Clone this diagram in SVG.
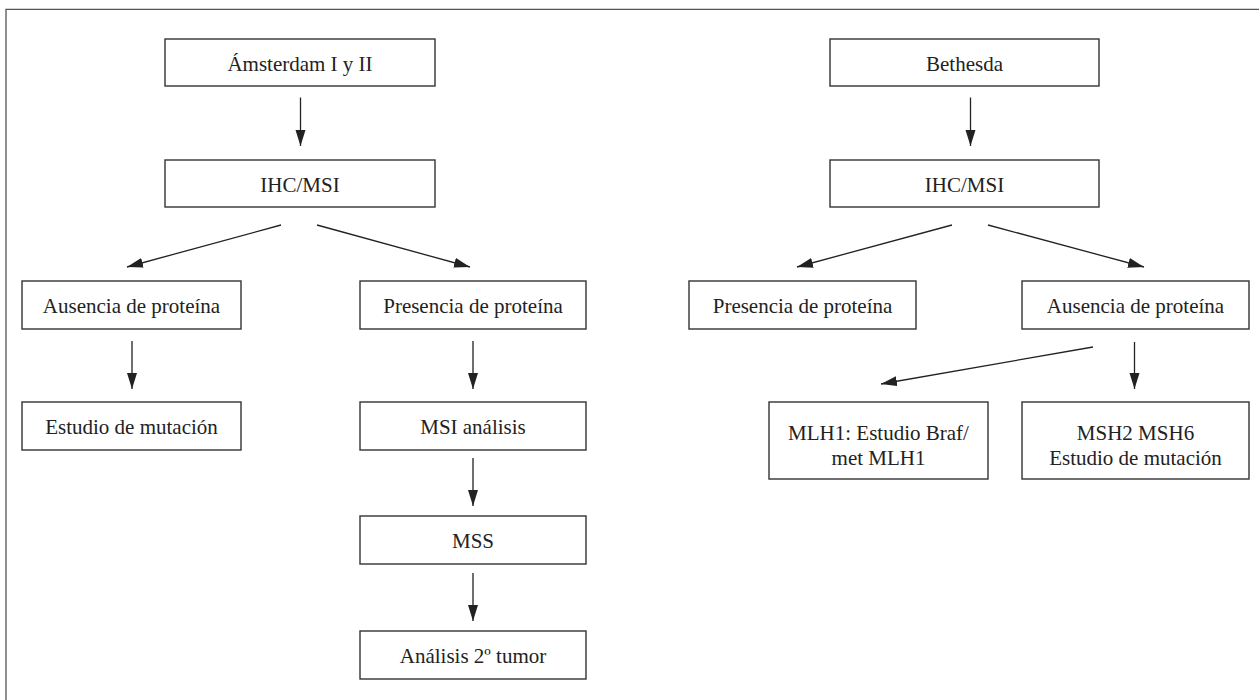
<svg xmlns="http://www.w3.org/2000/svg" width="1259" height="700" viewBox="0 0 1259 700">
<style>
.box{fill:#fff;stroke:#333;stroke-width:1.4}
.t{font-family:"Liberation Serif","Times New Roman",serif;font-size:21px;fill:#222;text-anchor:middle}
.c{stroke:#222;stroke-width:1.3;fill:none;marker-end:url(#ah)}
.frame{stroke:#555;stroke-width:1.3;fill:none}
</style>
<defs>
<marker id="ah" markerUnits="userSpaceOnUse" markerWidth="17" markerHeight="11" refX="16" refY="5" orient="auto" viewBox="0 0 17 11">
<path d="M0,0 L16,5 L0,10 z" fill="#222"/>
</marker>
</defs>
<rect width="1259" height="700" fill="#fff"/>
<path class="frame" d="M6,700 V9.3 H1259"/>
<g id="connectors">
<line class="c" x1="300.5" y1="97.5" x2="300.5" y2="146"/>
<line class="c" x1="281" y1="225" x2="127" y2="267"/>
<line class="c" x1="317" y1="225" x2="470" y2="267"/>
<line class="c" x1="132" y1="341" x2="132" y2="389"/>
<line class="c" x1="473" y1="341" x2="473" y2="389"/>
<line class="c" x1="473" y1="458" x2="473" y2="506"/>
<line class="c" x1="473" y1="573" x2="473" y2="621"/>
<line class="c" x1="970.5" y1="97.5" x2="970.5" y2="146"/>
<line class="c" x1="952" y1="225" x2="797" y2="267"/>
<line class="c" x1="988" y1="225" x2="1144" y2="267"/>
<line class="c" x1="1093" y1="347" x2="881" y2="384"/>
<line class="c" x1="1134.5" y1="342" x2="1134.5" y2="389"/>
</g>
<g id="n-amsterdam"><rect class="box" x="165" y="39" width="270" height="47"/><text class="t" x="300" y="70.5">Ámsterdam I y II</text></g>
<g id="n-ihc-left"><rect class="box" x="165" y="160" width="270" height="47"/><text class="t" x="300" y="191.5">IHC/MSI</text></g>
<g id="n-ausencia-left"><rect class="box" x="22" y="281" width="219" height="48"/><text class="t" x="131.5" y="313">Ausencia de proteína</text></g>
<g id="n-presencia-left"><rect class="box" x="360" y="281" width="226" height="48"/><text class="t" x="473" y="313">Presencia de proteína</text></g>
<g id="n-estudio-left"><rect class="box" x="22" y="402" width="219" height="48"/><text class="t" x="131.5" y="434">Estudio de mutación</text></g>
<g id="n-msi-analisis"><rect class="box" x="360" y="402" width="226" height="48"/><text class="t" x="473" y="434">MSI análisis</text></g>
<g id="n-mss"><rect class="box" x="360" y="516" width="226" height="48"/><text class="t" x="473" y="548">MSS</text></g>
<g id="n-analisis-tumor"><rect class="box" x="360" y="631" width="226" height="48"/><text class="t" x="473" y="663">Análisis 2º tumor</text></g>
<g id="n-bethesda"><rect class="box" x="830" y="39" width="269" height="47"/><text class="t" x="964.5" y="70.5">Bethesda</text></g>
<g id="n-ihc-right"><rect class="box" x="830" y="160" width="269" height="47"/><text class="t" x="964.5" y="191.5">IHC/MSI</text></g>
<g id="n-presencia-right"><rect class="box" x="689" y="281" width="227" height="48"/><text class="t" x="802.5" y="313">Presencia de proteína</text></g>
<g id="n-ausencia-right"><rect class="box" x="1022" y="281" width="227" height="48"/><text class="t" x="1135.5" y="313">Ausencia de proteína</text></g>
<g id="n-mlh1"><rect class="box" x="769" y="402" width="219" height="77"/><text class="t" x="878.5" y="440">MLH1: Estudio Braf/</text><text class="t" x="878.5" y="465">met MLH1</text></g>
<g id="n-msh2"><rect class="box" x="1022" y="402" width="227" height="77"/><text class="t" x="1135.5" y="440">MSH2 MSH6</text><text class="t" x="1135.5" y="465">Estudio de mutación</text></g>
</svg>
